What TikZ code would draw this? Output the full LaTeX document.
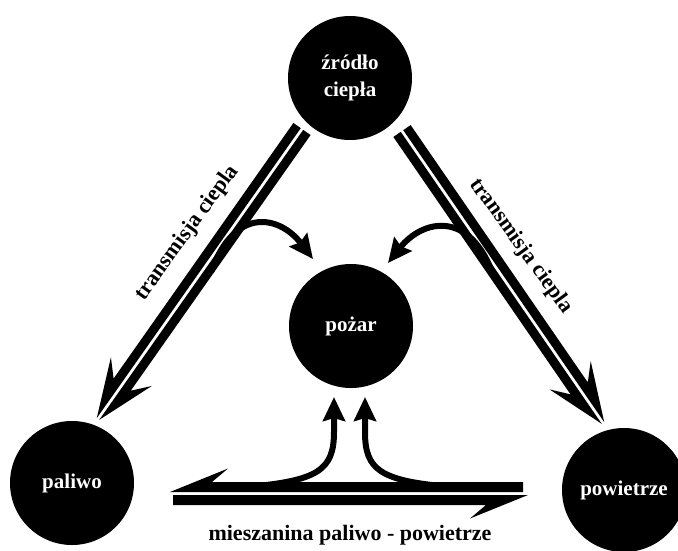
\documentclass[tikz,border=0pt]{standalone}
\usepackage{fontspec}
\setmainfont{Liberation Serif}
\usetikzlibrary{calc,arrows.meta}
% half of a split arrow: #1 tail, #2 tip, #3 side (+1/-1), #4 bar width, #5 half gap
\newcommand\halfarrow[5]{%
  \fill let \p1=($(#2)-(#1)$), \n1={atan2(\y1,\x1)}, \n2={veclen(\x1,\y1)} in
   {[shift={(#1)}, rotate=\n1]
    (0pt,{#3*#5}) -- (\n2,{#3*#5}) -- ({\n2-58pt},{#3*25pt})
    -- ({\n2-42pt},{#3*(#5+#4)}) -- (0pt,{#3*(#5+#4)}) -- cycle};
}
\begin{document}
\begin{tikzpicture}[x=1pt,y=-1pt,
  disc/.style={circle,fill=black,minimum size=124pt,inner sep=0pt,text=white,
    font=\fontsize{21}{27}\selectfont\bfseries,align=center},
  lbl/.style={font=\fontsize{22}{26}\selectfont\bfseries,inner sep=0pt},
  curved/.style={line width=6pt,-{Stealth[length=24pt,width=22pt,inset=3pt]}}]
\useasboundingbox (0,0) rectangle (678,550);
\clip (0,0) rectangle (678,550);

\node[disc] (src) at (350,78) {źródło\\ciepła};
\node[disc] (fire) at (351,326) {pożar};
\node[disc] (fuel) at (72,483) {paliwo};
\node[disc] (air) at (624,490) {powietrze};

\coordinate (lt) at (302,129); \coordinate (lh) at (98,419);
\coordinate (rt) at (402,131); \coordinate (rh) at (603,423);
\coordinate (bt1) at (523,493.5); \coordinate (bh1) at (170,493.5);
\coordinate (bt2) at (173,493.5); \coordinate (bh2) at (528,493.5);

\halfarrow{lt}{lh}{1}{9pt}{1.5pt}
\halfarrow{lt}{lh}{-1}{9pt}{1.5pt}
\halfarrow{rt}{rh}{1}{9pt}{1.5pt}
\halfarrow{rt}{rh}{-1}{9pt}{1.5pt}
\halfarrow{bt1}{bh1}{-1}{10pt}{1.5pt}
\halfarrow{bt2}{bh2}{-1}{10pt}{1.5pt}

\coordinate (c1) at (211,272); \coordinate (c1t) at (313,259);
\coordinate (c2) at (494,277); \coordinate (c2t) at (388,263);
\draw[curved] (c1) .. controls (235,205) and (280,216) .. (c1t);
\draw[curved] (c2) .. controls (470,208) and (422,220) .. (c2t);

\coordinate (u1) at (246,487); \coordinate (u1t) at (334,397);
\coordinate (u2) at (452,487); \coordinate (u2t) at (365,397);
\draw[curved] (u1) .. controls (318,481) and (334,470) .. (334,432) -- (u1t);
\draw[curved] (u2) .. controls (380,481) and (365,470) .. (365,432) -- (u2t);

\node[lbl,rotate=54] (l1) at (187,233) {transmisja ciepla};
\node[lbl,rotate=-54] (l2) at (521,246) {transmisja ciepla};
\node[lbl] (l3) at (350,535) {mieszanina paliwo - powietrze};
\end{tikzpicture}
\end{document}
